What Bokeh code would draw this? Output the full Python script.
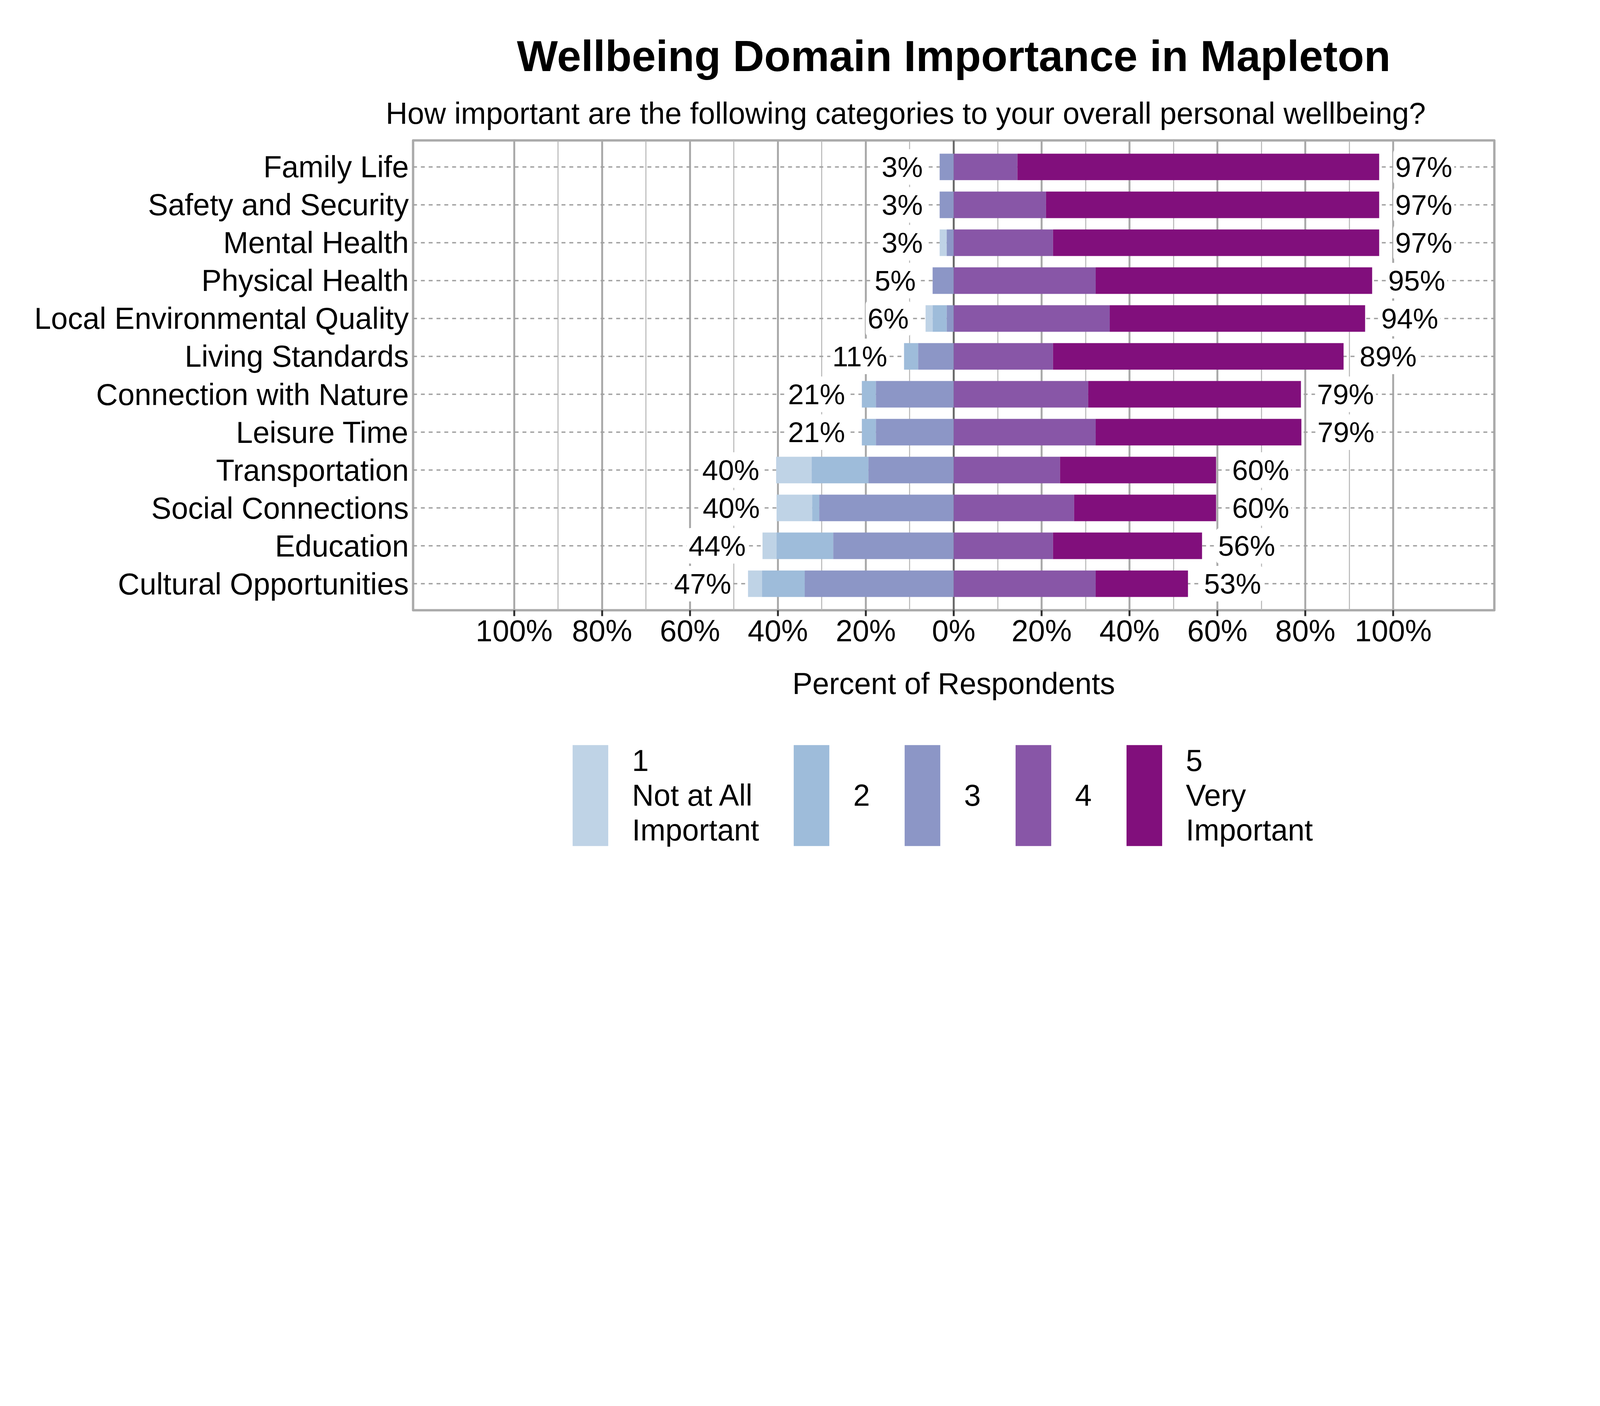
from bokeh.plotting import figure
from bokeh.layouts import column
from bokeh.models import (FactorRange, Range1d, FixedTicker, CustomJSTickFormatter,
                          Title, Legend, LegendItem, Grid, ColumnDataSource)
from bokeh.embed import file_html
from bokeh.resources import INLINE
from bokeh.core.properties import value

# ---------------- data ----------------
categories = ["Family Life", "Safety and Security", "Mental Health", "Physical Health",
              "Local Environmental Quality", "Living Standards", "Connection with Nature",
              "Leisure Time", "Transportation", "Social Connections", "Education",
              "Cultural Opportunities"]
level_1 = [0.0, 0.0, 1.6, 0.0, 1.6, 0.0, 0.0, 0.0, 8.1, 8.1, 3.2, 3.2]
level_2 = [0.0, 0.0, 0.0, 0.0, 3.2, 3.2, 3.2, 3.2, 12.9, 1.6, 12.9, 9.7]
level_3 = [3.2, 3.2, 1.6, 4.8, 1.6, 8.1, 17.7, 17.7, 19.4, 30.6, 27.4, 33.9]
level_4 = [14.5, 21.0, 22.6, 32.3, 35.5, 22.6, 30.6, 32.3, 24.2, 27.4, 22.6, 32.3]
level_5 = [82.3, 75.8, 74.2, 62.9, 58.1, 66.1, 48.4, 46.8, 35.5, 32.3, 33.9, 21.0]
neg_labels = ["3%", "3%", "3%", "5%", "6%", "11%", "21%", "21%", "40%", "40%", "44%", "47%"]
pos_labels = ["97%", "97%", "97%", "95%", "94%", "89%", "79%", "79%", "60%", "60%", "56%", "53%"]
legend_labels = ["1\nNot at All\nImportant", "2", "3", "4", "5\nVery\nImportant"]
colors = ["#bfd3e6", "#9ebcda", "#8c96c6", "#8856a7", "#810f7c"]
x_ticks = [-100, -80, -60, -40, -20, 0, 20, 40, 60, 80, 100]
x_minor = [-90, -70, -50, -30, -10, 10, 30, 50, 70, 90]
title_text = "Wellbeing Domain Importance in Mapleton"
subtitle_text = "How important are the following categories to your overall personal wellbeing?"
x_label = "Percent of Respondents"

FONT = "Liberation Sans"
W = 3984

# ---------------- segments ----------------
n = len(categories)
s3r = [0.0] * n
s3l = [-a for a in level_3]
s2r = s3l
s2l = [-(a + b) for a, b in zip(level_3, level_2)]
s1r = s2l
s1l = [-(a + b + c) for a, b, c in zip(level_3, level_2, level_1)]
s4l = [0.0] * n
s4r = list(level_4)
s5l = s4r
s5r = [a + b for a, b in zip(level_4, level_5)]

src = ColumnDataSource(dict(cat=categories,
                            l1=s1l, r1=s1r, l2=s2l, r2=s2r, l3=s3l, r3=s3r,
                            l4=s4l, r4=s4r, l5=s5l, r5=s5r,
                            neg_x=s1l, pos_x=s5r,
                            neg_lab=neg_labels, pos_lab=pos_labels))

p = figure(width=W, height=1862, title=None,
           x_range=Range1d(-123, 123),
           y_range=FactorRange(factors=list(reversed(categories)),
                               range_padding=0.2, range_padding_units="absolute"),
           output_backend="svg", toolbar_location=None,
           min_border_left=1057, min_border_right=159,
           min_border_top=359, min_border_bottom=300)
p.background_fill_color = "white"
p.border_fill_color = "white"
p.outline_line_color = "#AAAAAA"
p.outline_line_width = 6
p.outline_line_join = "round"

# grids
ticker = FixedTicker(ticks=x_ticks, minor_ticks=x_minor)
p.xaxis.ticker = ticker
p.xgrid.ticker = ticker
p.xgrid.grid_line_color = "#AAAAAA"
p.xgrid.grid_line_width = 5
p.xgrid.minor_grid_line_color = "#B5B5B5"
p.xgrid.minor_grid_line_width = 2.5
p.ygrid.grid_line_color = "#A0A0A0"
p.ygrid.grid_line_width = 3.3
p.ygrid.grid_line_dash = "10 10"
zero_grid = Grid(dimension=0, ticker=FixedTicker(ticks=[0]),
                 grid_line_color="#6B6B6B", grid_line_width=5)
p.add_layout(zero_grid)

# bars
lefts = ["l1", "l2", "l3", "l4", "l5"]
rights = ["r1", "r2", "r3", "r4", "r5"]
for lc, rc, col in zip(lefts, rights, colors):
    p.hbar(y="cat", left=lc, right=rc, height=0.7, source=src,
           fill_color=col, line_color=None)

# value labels
p.text(x="neg_x", y="cat", text="neg_lab", source=src, x_offset=-38,
       text_align="right", text_baseline="middle",
       text_font=value(FONT), text_font_size="73px", text_color="black",
       background_fill_color="white", padding=5, border_radius=9)
p.text(x="pos_x", y="cat", text="pos_lab", source=src, x_offset=36,
       text_align="left", text_baseline="middle",
       text_font=value(FONT), text_font_size="73px", text_color="black",
       background_fill_color="white", padding=5, border_radius=9)

# axes
xa = p.xaxis[0]
xa.formatter = CustomJSTickFormatter(code="return Math.abs(tick).toFixed(0) + '%'")
xa.axis_line_color = None
xa.major_tick_line_color = "#333333"
xa.major_tick_line_width = 5
xa.major_tick_out = 15
xa.major_tick_in = 0
xa.minor_tick_line_color = None
xa.major_label_text_font = FONT
xa.major_label_text_font_size = "77px"
xa.major_label_text_color = "black"
xa.major_label_standoff = -6
xa.axis_label = x_label
xa.axis_label_text_font = FONT
xa.axis_label_text_font_size = "77px"
xa.axis_label_text_font_style = "normal"
xa.axis_label_text_color = "black"
xa.axis_label_standoff = 46

ya = p.yaxis[0]
ya.axis_line_color = None
ya.major_tick_line_color = None
ya.major_tick_out = 0
ya.major_tick_in = 0
ya.minor_tick_line_color = None
ya.major_label_text_font = FONT
ya.major_label_text_font_size = "77px"
ya.major_label_text_color = "black"
ya.major_label_standoff = 11

# titles (first added sits closest to the frame)
p.add_layout(Title(text=subtitle_text, align="left", offset=-70, standoff=54,
                   text_font=FONT, text_font_size="77px", text_font_style="normal",
                   text_color="black"), "above")
p.add_layout(Title(text=title_text, align="center", standoff=24,
                   text_font=FONT, text_font_size="111px", text_font_style="bold",
                   text_color="black"), "above")

# ---------------- legend strip ----------------
# (its plot frame is aligned by the column with the chart frame above)
lf = figure(width=W, height=522, title=None, toolbar_location=None,
            output_backend="svg", min_border=0,
            x_axis_type=None, y_axis_type=None,
            x_range=Range1d(0, 1), y_range=Range1d(0, 1))
lf.outline_line_color = None
lf.background_fill_color = "white"
lf.border_fill_color = "white"
# legend proxies: one bar each, placed outside the visible range
swatches = [lf.hbar(y=[-10], left=[0], right=[1], height=0.7,
                    fill_color=col, line_color=None) for col in colors]
items = [LegendItem(label=lab, renderers=[r]) for lab, r in zip(legend_labels, swatches)]
legend = Legend(items=items, orientation="horizontal", location=(397, 186),
                glyph_width=114, glyph_height=323, label_standoff=50, spacing=77,
                padding=0, margin=0, border_line_color=None, background_fill_alpha=0,
                label_text_font=FONT, label_text_font_size="77px",
                label_text_line_height=1.09, label_text_color="black")
lf.add_layout(legend, "center")

layout = column(p, lf, spacing=0)
open("out.html", "w").write(file_html(layout, INLINE))
